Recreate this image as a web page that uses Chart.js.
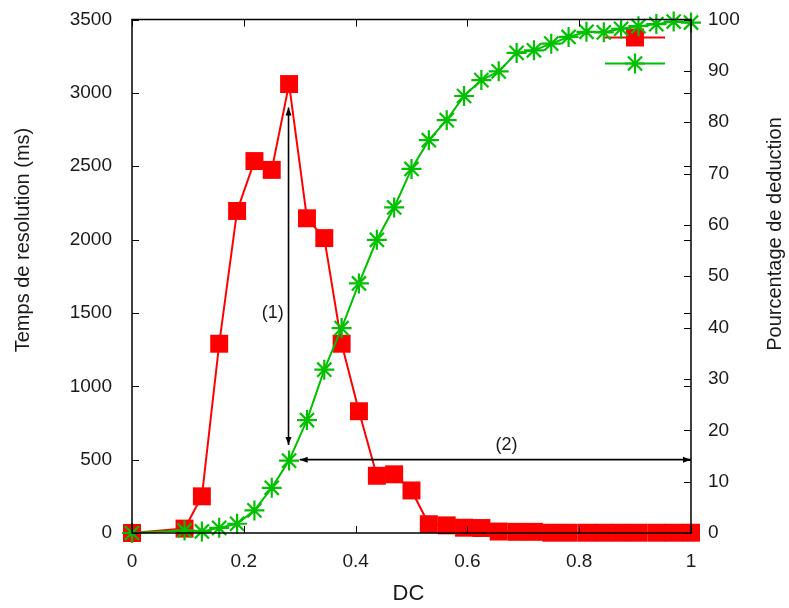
<!DOCTYPE html>
<html>
<head>
<meta charset="utf-8">
<script src="https://cdn.jsdelivr.net/npm/chart.js@4.4.1/dist/chart.umd.min.js"></script>
<style>
  html, body { margin: 0; padding: 0; background: #fff; }
  #wrap { width: 789px; height: 608px; }
</style>
</head>
<body>
<div id="wrap"><canvas id="dcChart" width="789" height="608"></canvas></div>
<script>
// DC values (steps of 1/32, first two skipped)
const dcValues = [
  0, 0.094, 0.125, 0.156, 0.188, 0.219, 0.25, 0.281, 0.313, 0.344, 0.375,
  0.406, 0.438, 0.469, 0.5, 0.531, 0.563, 0.594, 0.625, 0.656, 0.688,
  0.719, 0.75, 0.781, 0.813, 0.844, 0.875, 0.906, 0.938, 0.969, 1,
];
const resolutionMs = [
  0, 30, 250, 1290, 2195, 2535, 2475, 3060, 2145, 2010, 1290,
  830, 390, 400, 290, 60, 52, 36, 34, 10, 8,
  8, 2, 2, 2, 2, 2, 2, 2, 2, 2,
];
const deductionPct = [
  0, 0.5, 0.3, 1.0, 1.8, 4.4, 8.8, 14.1, 22.0, 31.8, 39.9,
  48.6, 57.1, 63.4, 70.9, 76.5, 80.4, 85.1, 88.2, 89.9, 93.5,
  94.0, 95.3, 96.6, 97.6, 97.5, 98.2, 98.7, 99.1, 99.6, 99.4,
];

const xTicks = [0, 0.2, 0.4, 0.6, 0.8, 1];
const msTicks = [0, 500, 1000, 1500, 2000, 2500, 3000, 3500];
const pctTicks = [0, 10, 20, 30, 40, 50, 60, 70, 80, 90, 100];

// annotations, in data units of (x, y-left)
const arrows = [
  { from: [0.28, 2900], to: [0.28, 600] },
  { from: [0.3, 500], to: [1, 500] },
];
const notes = [
  { text: "(1)", x: 0.252, y: 1500 },
  { text: "(2)", x: 0.67, y: 600 },
];

const RED = "#ff0000";
const GREEN = "#00c000";
const INK = "#1a1a1a";
const FONT = "'Liberation Sans', Arial, sans-serif";

function toPoints(ys) {
  return dcValues.map((x, i) => ({ x, y: ys[i] }));
}

function useTicks(list) {
  return (scale) => {
    scale.ticks = list.map((v) => ({ value: v }));
  };
}

// fixed box sizes so the plot area sits where it should
function fixSize(w, h) {
  return (s) => {
    if (w) s.width = w;
    if (h) s.height = h;
    s.paddingTop = 0;
    s.paddingBottom = 0;
    s.paddingLeft = 0;
    s.paddingRight = 0;
  };
}

const plainLabel = (v) => String(v);

function drawHead(ctx, x1, y1, x2, y2) {
  const ang = Math.atan2(y2 - y1, x2 - x1);
  const len = 8, half = 3;
  const c = Math.cos(ang), s = Math.sin(ang);
  ctx.beginPath();
  ctx.moveTo(x2, y2);
  ctx.lineTo(x2 - len * c + half * s, y2 - len * s - half * c);
  ctx.lineTo(x2 - len * c - half * s, y2 - len * s + half * c);
  ctx.closePath();
  ctx.fill();
}

// key without titles, top right of the plot
const keyPlugin = {
  id: "keyPlugin",
  beforeDatasetsDraw(chart) {
    const { ctx, chartArea: a } = chart;
    const cx = a.right - 56;
    const rows = [
      { ds: chart.data.datasets[0], y: a.top + 18 },
      { ds: chart.data.datasets[1], y: a.top + 44 },
    ];
    ctx.save();
    rows.forEach(({ ds, y }) => {
      ctx.strokeStyle = ds.borderColor;
      ctx.lineWidth = ds.borderWidth;
      ctx.beginPath();
      ctx.moveTo(cx - 30, y);
      ctx.lineTo(cx + 30, y);
      ctx.stroke();
      ctx.fillStyle = ds.pointBackgroundColor;
      ctx.strokeStyle = ds.pointBorderColor;
      ctx.lineWidth = ds.pointBorderWidth;
      Chart.helpers.drawPoint(ctx, {
        pointStyle: ds.pointStyle,
        radius: ds.pointRadius,
        rotation: 0,
        borderWidth: ds.pointBorderWidth,
      }, cx, y);
    });
    ctx.restore();
  },
};

// box, inward ticks on all sides, arrows, labels and axis titles
const framePlugin = {
  id: "framePlugin",
  afterDatasetsDraw(chart) {
    const { ctx, chartArea: a, scales } = chart;
    const t = 7;
    ctx.save();
    ctx.strokeStyle = "#000";
    ctx.lineWidth = 1;
    ctx.beginPath();
    scales.x.ticks.forEach((tk) => {
      const px = Math.round(scales.x.getPixelForValue(tk.value)) + 0.5;
      ctx.moveTo(px, a.bottom); ctx.lineTo(px, a.bottom - t);
      ctx.moveTo(px, a.top); ctx.lineTo(px, a.top + t);
    });
    scales.y.ticks.forEach((tk) => {
      const py = Math.round(scales.y.getPixelForValue(tk.value)) + 0.5;
      ctx.moveTo(a.left, py); ctx.lineTo(a.left + t, py);
      ctx.moveTo(a.right, py); ctx.lineTo(a.right - t, py);
    });
    scales.y2.ticks.forEach((tk) => {
      const py = Math.round(scales.y2.getPixelForValue(tk.value)) + 0.5;
      ctx.moveTo(a.right, py); ctx.lineTo(a.right - t, py);
    });
    ctx.stroke();
    ctx.lineWidth = 1.5;
    ctx.strokeRect(a.left, a.top, a.right - a.left, a.bottom - a.top);

    ctx.fillStyle = "#000";
    ctx.lineWidth = 1.6;
    arrows.forEach(({ from, to }) => {
      const x1 = scales.x.getPixelForValue(from[0]);
      const y1 = scales.y.getPixelForValue(from[1]);
      const x2 = scales.x.getPixelForValue(to[0]);
      const y2 = scales.y.getPixelForValue(to[1]);
      ctx.beginPath();
      ctx.moveTo(x1, y1);
      ctx.lineTo(x2, y2);
      ctx.stroke();
      drawHead(ctx, x1, y1, x2, y2);
      drawHead(ctx, x2, y2, x1, y1);
    });

    ctx.fillStyle = INK;
    ctx.font = "18px " + FONT;
    ctx.textAlign = "center";
    ctx.textBaseline = "middle";
    notes.forEach((n) => {
      ctx.fillText(n.text, scales.x.getPixelForValue(n.x), scales.y.getPixelForValue(n.y));
    });

    // axis titles, both vertical ones read bottom to top
    ctx.font = "22px " + FONT;
    ctx.fillText("DC", (a.left + a.right) / 2 - 3, 594);
    ctx.font = "20px " + FONT;
    ctx.save();
    ctx.translate(23, 240);
    ctx.rotate(-Math.PI / 2);
    ctx.fillText("Temps de resolution (ms)", 0, 0);
    ctx.restore();
    ctx.save();
    ctx.translate(775, 234);
    ctx.rotate(-Math.PI / 2);
    ctx.fillText("Pourcentage de deduction", 0, 0);
    ctx.restore();
    ctx.restore();
  },
};

const tickFont = { family: FONT, size: 19 };

new Chart(document.getElementById("dcChart"), {
  type: "line",
  data: {
    datasets: [
      {
        label: "Temps de resolution",
        data: toPoints(resolutionMs),
        yAxisID: "y",
        borderColor: RED,
        borderWidth: 2,
        pointStyle: "rect",
        pointRadius: 12.7,
        pointBackgroundColor: RED,
        pointBorderColor: RED,
        pointBorderWidth: 0,
        tension: 0,
        clip: false,
        order: 1,
      },
      {
        label: "Pourcentage de deduction",
        data: toPoints(deductionPct),
        yAxisID: "y2",
        borderColor: GREEN,
        borderWidth: 2,
        pointStyle: "star",
        pointRadius: 10,
        pointBackgroundColor: GREEN,
        pointBorderColor: GREEN,
        pointBorderWidth: 2.2,
        tension: 0,
        clip: false,
        order: 0,
      },
    ],
  },
  options: {
    responsive: false,
    animation: false,
    events: [],
    layout: { padding: { top: 19.5, left: 0, right: 0, bottom: 0 } },
    plugins: { legend: { display: false }, tooltip: { enabled: false } },
    scales: {
      x: {
        type: "linear",
        min: 0,
        max: 1,
        afterBuildTicks: useTicks(xTicks),
        afterFit: fixSize(0, 75),
        grid: { display: false, drawTicks: false },
        border: { display: false },
        ticks: { font: tickFont, color: INK, padding: 17, maxRotation: 0, callback: plainLabel },
      },
      y: {
        position: "left",
        min: 0,
        max: 3500,
        afterBuildTicks: useTicks(msTicks),
        afterFit: fixSize(132, 0),
        grid: { display: false, drawTicks: false },
        border: { display: false },
        ticks: { font: tickFont, color: INK, padding: 20, callback: plainLabel },
      },
      y2: {
        position: "right",
        min: 0,
        max: 100,
        afterBuildTicks: useTicks(pctTicks),
        afterFit: fixSize(98, 0),
        grid: { display: false, drawTicks: false },
        border: { display: false },
        ticks: { font: tickFont, color: INK, padding: 17, callback: plainLabel },
      },
    },
  },
  plugins: [keyPlugin, framePlugin],
});
</script>
</body>
</html>
